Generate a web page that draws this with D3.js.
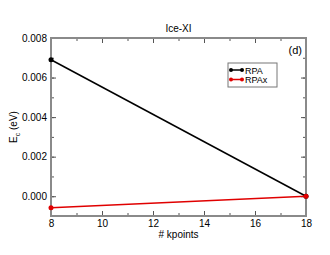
<!DOCTYPE html>
<html>
<head>
<meta charset="utf-8">
<script src="https://cdn.jsdelivr.net/npm/d3@7"></script>
<style>
  body { margin: 0; background: #fff; }
  text { font-family: "Liberation Sans", Arial, sans-serif; fill: #000; }
</style>
</head>
<body>
<div id="chart"></div>
<script>
// data
const kpoints = [8, 18];
const rpa = [0.0069, 0.0];
const rpax = [-0.00058, 0.0];
const seriesNames = ["RPA", "RPAx"];
const seriesColors = ["#000000", "#e00000"];
const xTicks = [8, 10, 12, 14, 16, 18];
const yTicks = [0.000, 0.002, 0.004, 0.006, 0.008];

const W = 330, H = 255;
const margin = { top: 38, right: 24, bottom: 39, left: 51 },
    width = W - margin.left - margin.right,
    height = H - margin.top - margin.bottom;

const svg = d3.select("#chart").append("svg")
    .attr("width", W).attr("height", H);

const g = svg.append("g")
    .attr("transform", `translate(${margin.left},${margin.top})`);

const x = d3.scaleLinear().domain([8, 18]).range([0, width]);
const y = d3.scaleLinear().domain([-0.001, 0.008]).range([height, 0]);

const frameColor = "#8a8a8a";

// ticks, all pointing inward, on all four sides
function tickSet(axisFn, scale, values, size, fmt) {
    return axisFn(scale).tickValues(values).tickSize(size).tickFormat(fmt);
}
const minorX = d3.range(8, 18.01, 1);
const minorY = d3.range(-0.001, 0.0081, 0.001);

// bottom
g.append("g").attr("transform", `translate(0,${height})`)
    .call(tickSet(d3.axisBottom, x, minorX, -3, ""));
g.append("g").attr("transform", `translate(0,${height})`)
    .call(tickSet(d3.axisBottom, x, xTicks, -5, d3.format("d")))
    .call(a => a.selectAll("text").attr("y", 4));
// top
g.append("g").call(tickSet(d3.axisTop, x, minorX, -3, ""));
g.append("g").call(tickSet(d3.axisTop, x, xTicks, -5, ""));
// left
g.append("g").call(tickSet(d3.axisLeft, y, minorY, -3, ""));
g.append("g").call(tickSet(d3.axisLeft, y, yTicks, -5, d3.format(".3f")))
    .call(a => a.selectAll("text").attr("x", -4));
// right
g.append("g").attr("transform", `translate(${width},0)`)
    .call(tickSet(d3.axisRight, y, minorY, -3, ""));
g.append("g").attr("transform", `translate(${width},0)`)
    .call(tickSet(d3.axisRight, y, yTicks, -5, ""));

g.selectAll(".domain").remove();
g.selectAll(".tick line").attr("stroke", "#555").attr("stroke-width", 1);
g.selectAll(".tick text").style("font-size", "10px").attr("fill", "#000");

// frame
g.append("rect")
    .attr("width", width).attr("height", height)
    .attr("fill", "none")
    .attr("stroke", frameColor)
    .attr("stroke-width", 2);

// series
const series = [rpa, rpax];
const line = d3.line().x(d => x(d[0])).y(d => y(d[1]));
series.forEach((vals, i) => {
    const pts = kpoints.map((k, j) => [k, vals[j]]);
    g.append("path").datum(pts)
        .attr("d", line)
        .attr("fill", "none")
        .attr("stroke", seriesColors[i])
        .attr("stroke-width", 1.5);
    g.selectAll(null).data(pts).enter().append("circle")
        .attr("cx", d => x(d[0])).attr("cy", d => y(d[1]))
        .attr("r", 2.5)
        .attr("fill", seriesColors[i]);
});

// title and panel label
svg.append("text")
    .attr("x", margin.left + width / 2).attr("y", 32)
    .attr("text-anchor", "middle")
    .style("font-size", "10px")
    .text("Ice-XI");
g.append("text")
    .attr("x", width - 4).attr("y", 16)
    .attr("text-anchor", "end")
    .style("font-size", "11px")
    .text("(d)");

// axis labels
svg.append("text")
    .attr("x", margin.left + width / 2).attr("y", 238)
    .attr("text-anchor", "middle")
    .style("font-size", "10px")
    .text("# kpoints");
const yl = svg.append("text")
    .attr("transform", `translate(17,${margin.top + height / 2}) rotate(-90)`)
    .attr("text-anchor", "middle")
    .style("font-size", "10px");
yl.append("tspan").text("E");
yl.append("tspan").attr("dy", 3).style("font-size", "7px").text("c");
yl.append("tspan").attr("dy", -3).text(" (eV)");

// legend
const lg = svg.append("g").attr("transform", "translate(228,63)");
lg.append("rect")
    .attr("width", 49).attr("height", 24)
    .attr("fill", "#fff")
    .attr("stroke", "#777")
    .attr("stroke-width", 1);
seriesNames.forEach((name, i) => {
    const yy = 7 + i * 9.5;
    lg.append("line")
        .attr("x1", 3).attr("x2", 14).attr("y1", yy).attr("y2", yy)
        .attr("stroke", seriesColors[i]).attr("stroke-width", 1.5);
    lg.append("circle").attr("cx", 3).attr("cy", yy).attr("r", 2).attr("fill", seriesColors[i]);
    lg.append("circle").attr("cx", 14).attr("cy", yy).attr("r", 2).attr("fill", seriesColors[i]);
    lg.append("text")
        .attr("x", 17).attr("y", yy + 3.5)
        .style("font-size", "9px")
        .text(name);
});
</script>
</body>
</html>
